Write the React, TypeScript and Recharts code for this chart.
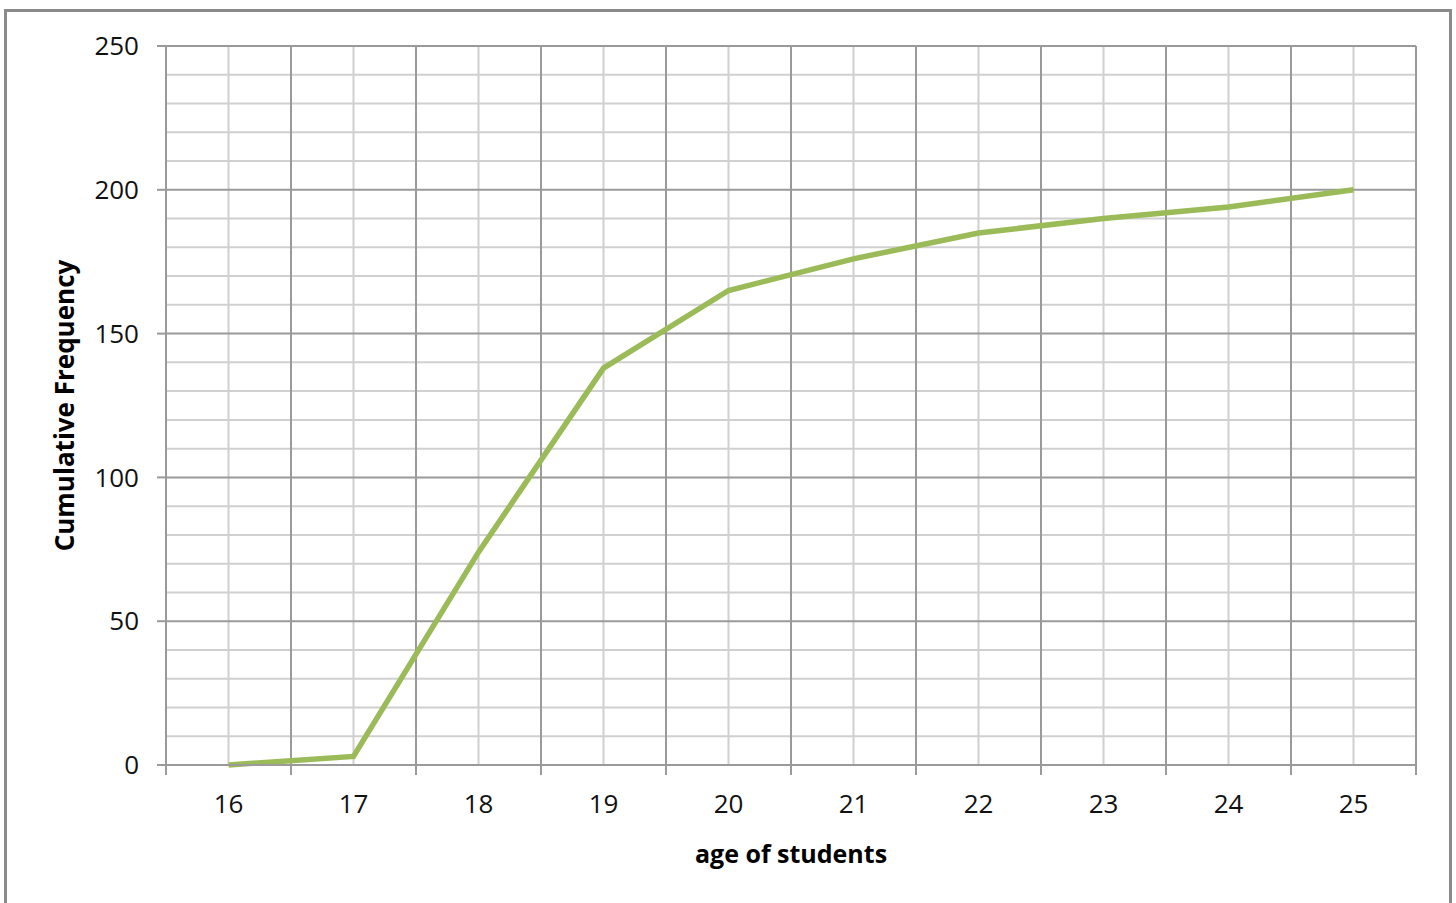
import { LineChart, Line, XAxis, YAxis, ReferenceLine } from "recharts";

const ages = [16, 17, 18, 19, 20, 21, 22, 23, 24, 25];
const cumulative = [0, 3, 74, 138, 165, 176, 185, 190, 194, 200];
const yTicks = [0, 50, 100, 150, 200, 250];
const yMinor = [10, 20, 30, 40, 60, 70, 80, 90, 110, 120, 130, 140, 160, 170, 180, 190, 210, 220, 230, 240];
const xBounds = [15.5, 16.5, 17.5, 18.5, 19.5, 20.5, 21.5, 22.5, 23.5, 24.5, 25.5];

const data = ages.map((age, i) => ({ age, cf: cumulative[i] }));

const FONT = "'Open Sans', 'Liberation Sans', sans-serif";
const MAJOR = "#9a9a9a";
const MINOR = "#d0d0d0";

const EmptyTick = () => <g />;

export default function App() {
  return (
    <div
      style={{
        position: "absolute",
        left: 4,
        top: 9,
        width: 1448,
        height: 900,
        border: "3px solid #8a8a8a",
        boxSizing: "border-box",
        background: "#fff",
      }}
    >
      <LineChart
        width={1442}
        height={894}
        data={data}
        margin={{ top: 34, right: 33, left: 58, bottom: 31 }}
        style={{ fontFamily: FONT }}
      >
        {/* tick marks at category boundaries */}
        <XAxis
          xAxisId="bounds"
          type="number"
          dataKey="age"
          domain={[15.5, 25.5]}
          ticks={xBounds}
          interval={0}
          height={1}
          tick={EmptyTick}
          tickSize={10}
          tickLine={{ stroke: MAJOR, strokeWidth: 2 }}
          axisLine={{ stroke: MAJOR, strokeWidth: 2 }}
        />
        <XAxis
          xAxisId="main"
          type="number"
          dataKey="age"
          domain={[15.5, 25.5]}
          ticks={ages}
          interval={0}
          height={109}
          tickSize={0}
          tickMargin={29}
          tickLine={false}
          axisLine={false}
          tick={{ fill: "#111", fontSize: 26, fontFamily: FONT }}
          label={{
            value: "age of students",
            position: "insideBottom",
            offset: 12,
            fill: "#000",
            fontSize: 25,
            fontWeight: 700,
            fontFamily: FONT,
          }}
        />
        <YAxis
          width={101}
          domain={[0, 250]}
          ticks={yTicks}
          tickSize={9}
          tickMargin={18}
          tickLine={{ stroke: MAJOR, strokeWidth: 2 }}
          axisLine={{ stroke: MAJOR, strokeWidth: 2 }}
          tick={{ fill: "#111", fontSize: 26, fontFamily: FONT }}
          label={{
            value: "Cumulative Frequency",
            angle: -90,
            position: "insideLeft",
            offset: 0,
            fill: "#000",
            fontSize: 26,
            fontWeight: 700,
            fontFamily: FONT,
            style: { textAnchor: "middle" },
          }}
        />
        {yMinor.map((v) => (
          <ReferenceLine key={`ym${v}`} xAxisId="main" y={v} stroke={MINOR} strokeWidth={2} />
        ))}
        {ages.map((v) => (
          <ReferenceLine key={`xm${v}`} xAxisId="main" x={v} stroke={MINOR} strokeWidth={2} />
        ))}
        {yTicks.map((v) => (
          <ReferenceLine key={`yM${v}`} xAxisId="main" y={v} stroke={MAJOR} strokeWidth={2} />
        ))}
        {xBounds.map((v) => (
          <ReferenceLine key={`xM${v}`} xAxisId="main" x={v} stroke={MAJOR} strokeWidth={2} />
        ))}
        <Line
          xAxisId="main"
          type="linear"
          dataKey="cf"
          stroke="#9bbb59"
          strokeWidth={5.5}
          dot={false}
          activeDot={false}
          isAnimationActive={false}
        />
      </LineChart>
    </div>
  );
}
